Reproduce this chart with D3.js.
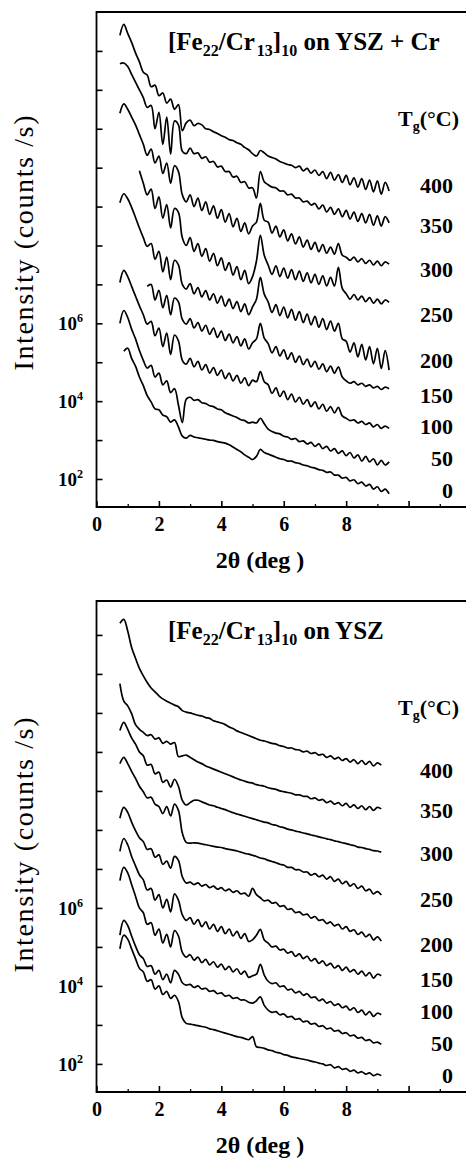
<!DOCTYPE html>
<html>
<head>
<meta charset="utf-8">
<script src="https://cdn.jsdelivr.net/npm/d3@7"></script>
<style>
  body { margin: 0; background: #fff; }
  svg { display: block; }
</style>
</head>
<body>
<svg id="chart" width="466" height="1158"></svg>
<script>
// 2theta sampling (deg)
const twoThetaTop = [0.75, 0.875, 1, 1.125, 1.25, 1.375, 1.5, 1.625, 1.75, 1.875, 2, 2.125, 2.25, 2.375, 2.5, 2.625, 2.75, 2.875, 3, 3.125, 3.25, 3.375, 3.5, 3.625, 3.75, 3.875, 4, 4.125, 4.25, 4.375, 4.5, 4.625, 4.75, 4.875, 5, 5.125, 5.25, 5.375, 5.5, 5.625, 5.75, 5.875, 6, 6.125, 6.25, 6.375, 6.5, 6.625, 6.75, 6.875, 7, 7.125, 7.25, 7.375, 7.5, 7.625, 7.75, 7.875, 8, 8.125, 8.25, 8.375, 8.5, 8.625, 8.75, 8.875, 9, 9.125, 9.25, 9.375];
const twoThetaBottom = twoThetaTop.slice(0, 68);

// growth temperatures, top to bottom
const tgLabels = [400, 350, 300, 250, 200, 150, 100, 50, 0];
// where the temperature labels sit (log10 counts/s)
const tgLabelLevels = [9.34, 8.31, 7.2, 6.03, 4.86, 3.96, 3.15, 2.33, 1.52];

// y tick decades, labelled decades
const decades = [2, 3, 4, 5, 6, 7, 8, 9, 10, 11, 12, 13];
const labelledDecades = [2, 4, 6];

// ---- top panel: [Fe22/Cr13]10 on YSZ + Cr, log10 intensity (offset curves)
const top400 = [13.4, 13.68, 13.45, 13.22, 12.95, 12.72, 12.45, 12.38, 12.08, 12.12, 11.85, 11.92, 11.66, 11.76, 11.5, 11.62, 10.95, 11.15, 11.22, 11.08, 11.14, 11.1, 11.0, 10.98, 10.92, 10.88, 10.82, 10.78, 10.72, 10.7, 10.64, 10.6, 10.52, 10.46, 10.36, 10.3, 10.44, 10.38, 10.3, 10.26, 10.22, 10.16, 10.12, 10.08, 10.06, 10.0, 10.04, 9.92, 9.98, 9.86, 9.94, 9.8, 9.9, 9.72, 9.88, 9.68, 9.82, 9.62, 9.8, 9.56, 9.74, 9.5, 9.72, 9.44, 9.68, 9.38, 9.66, 9.32, 9.62, 9.4];
const top350 = [12.67, 12.69, 12.6, 12.4, 12.2, 12.0, 11.8, 11.55, 11.6, 11.0, 11.42, 10.6, 11.3, 10.35, 11.2, 11.1, 10.42, 10.36, 10.5, 10.36, 10.38, 10.24, 10.28, 10.14, 10.16, 10.02, 10.04, 9.9, 9.9, 9.76, 9.78, 9.62, 9.64, 9.48, 9.48, 9.22, 9.9, 9.64, 9.56, 9.5, 9.48, 9.4, 9.4, 9.3, 9.32, 9.22, 9.22, 9.12, 9.14, 9.04, 9.08, 8.94, 9.04, 8.86, 8.98, 8.8, 8.94, 8.74, 8.9, 8.68, 8.86, 8.62, 8.82, 8.58, 8.8, 8.52, 8.76, 8.5, 8.74, 8.58];
const top300 = [11.4, 11.64, 11.5, 11.3, 11.1, 10.85, 10.6, 10.32, 10.48, 10.12, 10.3, 9.85, 10.12, 9.6, 10.05, 9.9, 9.3, 9.12, 9.3, 9.0, 9.22, 8.9, 9.12, 8.8, 9.02, 8.7, 8.92, 8.6, 8.82, 8.48, 8.7, 8.36, 8.58, 8.3, 8.5, 8.6, 9.08, 8.65, 8.6, 8.32, 8.5, 8.22, 8.4, 8.12, 8.3, 8.04, 8.22, 7.96, 8.14, 7.9, 8.08, 7.84, 8.02, 7.8, 7.96, 7.78, 8.05, 7.75, 7.7, 7.62, 7.7, 7.58, 7.66, 7.54, 7.62, 7.5, 7.6, 7.48, 7.58, 7.52];
const top250 = [null, null, null, null, null, 9.92, 9.6, 9.3, 9.45, 8.95, 9.25, 8.7, 9.05, 8.45, 8.95, 8.85, 8.2, 8.0, 8.2, 7.85, 8.05, 7.72, 7.92, 7.6, 7.8, 7.48, 7.68, 7.36, 7.56, 7.24, 7.46, 7.12, 7.36, 7.02, 7.2, 7.6, 8.26, 7.75, 7.5, 7.26, 7.48, 7.2, 7.42, 7.16, 7.38, 7.12, 7.34, 7.08, 7.3, 7.04, 7.26, 7.0, 7.22, 6.96, 7.18, 6.96, 7.44, 6.9, 6.76, 6.62, 6.74, 6.6, 6.7, 6.56, 6.66, 6.52, 6.62, 6.5, 6.6, 6.54];
const top200 = [9.1, 9.33, 9.2, 8.98, 8.72, 8.45, 8.2, 7.98, 8.05, 7.65, 7.85, 7.32, 7.7, 7.12, 7.62, 7.5, 7.0, 6.88, 7.02, 6.76, 6.92, 6.68, 6.84, 6.6, 6.76, 6.52, 6.7, 6.44, 6.62, 6.38, 6.56, 6.3, 6.5, 6.22, 6.42, 6.62, 7.18, 6.75, 6.55, 6.28, 6.48, 6.2, 6.42, 6.14, 6.36, 6.08, 6.3, 6.02, 6.24, 5.96, 6.18, 5.9, 6.12, 5.84, 6.06, 5.8, 6.0, 5.6, 5.54, 5.26, 5.5, 5.14, 5.46, 5.06, 5.4, 4.96, 5.36, 4.84, 5.3, 4.8];
const top150 = [null, null, null, null, null, null, null, 6.95, 7.0, 6.6, 6.85, 6.4, 6.72, 6.22, 6.65, 6.55, 6.1, 5.98, 6.12, 5.88, 6.02, 5.8, 5.95, 5.72, 5.88, 5.64, 5.8, 5.56, 5.72, 5.5, 5.66, 5.42, 5.6, 5.34, 5.5, 5.6, 6.0, 5.62, 5.48, 5.24, 5.4, 5.16, 5.32, 5.08, 5.24, 5.0, 5.16, 4.94, 5.08, 4.88, 5.02, 4.82, 4.96, 4.76, 4.9, 4.72, 4.88, 4.62, 4.52, 4.46, 4.5, 4.42, 4.46, 4.38, 4.42, 4.34, 4.38, 4.3, 4.36, 4.32];
const top100 = [7.05, 7.36, 7.2, 6.95, 6.7, 6.45, 6.22, 5.98, 6.05, 5.68, 5.88, 5.4, 5.75, 5.2, 5.7, 5.55, 5.05, 4.95, 5.1, 4.88, 5.02, 4.8, 4.94, 4.72, 4.86, 4.66, 4.8, 4.58, 4.72, 4.52, 4.66, 4.46, 4.6, 4.4, 4.54, 4.5, 4.76, 4.5, 4.42, 4.2, 4.34, 4.12, 4.26, 4.04, 4.18, 3.98, 4.1, 3.92, 4.04, 3.86, 3.98, 3.8, 3.92, 3.74, 3.86, 3.7, 3.84, 3.62, 3.56, 3.5, 3.52, 3.44, 3.48, 3.4, 3.44, 3.34, 3.4, 3.3, 3.36, 3.3];
const top50 = [6.0, 6.33, 6.15, 5.85, 5.6, 5.3, 5.05, 4.85, 4.92, 4.62, 4.72, 4.42, 4.52, 4.22, 4.32, 3.9, 3.45, 4.05, 4.1, 4.02, 4.04, 3.96, 3.94, 3.88, 3.86, 3.8, 3.78, 3.7, 3.66, 3.62, 3.58, 3.52, 3.5, 3.44, 3.46, 3.44, 3.56, 3.42, 3.28, 3.22, 3.18, 3.16, 3.1, 3.08, 3.02, 3.04, 2.96, 2.98, 2.9, 2.94, 2.84, 2.9, 2.78, 2.84, 2.72, 2.78, 2.66, 2.72, 2.6, 2.68, 2.54, 2.62, 2.46, 2.58, 2.44, 2.52, 2.36, 2.48, 2.36, 2.44];
const top0 = [null, 5.28, 5.36, 5.1, 4.9, 4.62, 4.4, 4.14, 3.98, 3.8, 3.78, 3.64, 3.6, 3.46, 3.52, 3.34, 3.1, 3.05, 3.12, 3.08, 3.06, 3.04, 3.02, 3.0, 2.99, 2.96, 2.94, 2.92, 2.88, 2.82, 2.76, 2.7, 2.62, 2.56, 2.5, 2.58, 2.76, 2.68, 2.64, 2.6, 2.56, 2.52, 2.5, 2.46, 2.46, 2.42, 2.4, 2.36, 2.34, 2.3, 2.28, 2.24, 2.22, 2.17, 2.18, 2.1, 2.1, 2.02, 2.04, 1.95, 1.98, 1.88, 1.92, 1.82, 1.86, 1.74, 1.8, 1.68, 1.74, 1.62];

// ---- bottom panel: [Fe22/Cr13]10 on YSZ
const bot400 = [13.3, 13.4, 13.1, 12.68, 12.4, 12.14, 11.95, 11.78, 11.64, 11.54, 11.44, 11.36, 11.3, 11.25, 11.2, 11.16, 11.06, 11.02, 11.0, 10.97, 10.94, 10.92, 10.88, 10.86, 10.8, 10.77, 10.74, 10.7, 10.64, 10.6, 10.54, 10.5, 10.46, 10.42, 10.38, 10.34, 10.3, 10.28, 10.25, 10.22, 10.2, 10.16, 10.14, 10.1, 10.1, 10.06, 10.05, 10.0, 10.02, 9.96, 9.98, 9.92, 9.94, 9.86, 9.9, 9.82, 9.86, 9.78, 9.83, 9.74, 9.8, 9.7, 9.78, 9.68, 9.76, 9.64, 9.72, 9.66];
const bot350 = [11.75, 11.3, 11.18, 10.98, 10.7, 10.58, 10.5, 10.42, 10.44, 10.33, 10.36, 10.22, 10.27, 10.2, 10.24, 9.88, 9.9, 9.92, 9.86, 9.8, 9.74, 9.7, 9.64, 9.6, 9.56, 9.52, 9.48, 9.44, 9.4, 9.36, 9.32, 9.28, 9.25, 9.22, 9.2, 9.16, 9.14, 9.12, 9.08, 9.06, 9.04, 9.0, 8.98, 8.96, 8.94, 8.9, 8.9, 8.86, 8.86, 8.8, 8.82, 8.76, 8.78, 8.7, 8.74, 8.66, 8.7, 8.62, 8.68, 8.58, 8.64, 8.55, 8.62, 8.52, 8.6, 8.5, 8.58, 8.54];
const bot300 = [10.55, 10.76, 10.58, 10.36, 10.2, 10.0, 9.9, 9.66, 9.68, 9.44, 9.48, 9.22, 9.28, 9.1, 9.3, 9.12, 8.76, 8.64, 8.7, 8.76, 8.76, 8.72, 8.68, 8.64, 8.62, 8.58, 8.55, 8.52, 8.48, 8.44, 8.41, 8.38, 8.35, 8.32, 8.29, 8.26, 8.23, 8.2, 8.18, 8.14, 8.12, 8.08, 8.06, 8.02, 8.0, 7.97, 7.95, 7.92, 7.9, 7.87, 7.85, 7.82, 7.8, 7.77, 7.75, 7.72, 7.7, 7.67, 7.65, 7.62, 7.6, 7.56, 7.55, 7.52, 7.5, 7.47, 7.46, 7.43];
const bot250 = [9.7, 9.86, 9.7, 9.5, 9.32, 9.12, 8.98, 8.82, 8.84, 8.66, 8.6, 8.42, 8.6, 8.36, 8.66, 8.5, 7.92, 7.68, 7.66, 7.67, 7.66, 7.64, 7.62, 7.6, 7.58, 7.56, 7.55, 7.52, 7.5, 7.48, 7.46, 7.43, 7.4, 7.38, 7.35, 7.32, 7.28, 7.26, 7.22, 7.19, 7.16, 7.12, 7.1, 7.04, 7.04, 6.98, 6.98, 6.92, 6.92, 6.84, 6.88, 6.8, 6.84, 6.74, 6.8, 6.68, 6.74, 6.62, 6.68, 6.56, 6.62, 6.5, 6.56, 6.44, 6.48, 6.36, 6.42, 6.33];
const bot200 = [8.3, 8.58, 8.45, 8.2, 7.98, 7.8, 7.7, 7.5, 7.52, 7.3, 7.36, 7.12, 7.2, 7.02, 7.32, 7.22, 6.8, 6.64, 6.66, 6.6, 6.64, 6.56, 6.6, 6.52, 6.56, 6.48, 6.52, 6.44, 6.48, 6.4, 6.44, 6.36, 6.38, 6.3, 6.5, 6.34, 6.26, 6.18, 6.2, 6.12, 6.14, 6.04, 6.06, 5.96, 5.98, 5.88, 5.9, 5.82, 5.84, 5.74, 5.78, 5.68, 5.7, 5.6, 5.64, 5.54, 5.58, 5.46, 5.52, 5.4, 5.44, 5.32, 5.38, 5.26, 5.32, 5.18, 5.26, 5.15];
const bot150 = [7.45, 7.78, 7.62, 7.32, 7.08, 6.85, 6.72, 6.46, 6.5, 6.2, 6.34, 6.0, 6.22, 5.9, 6.36, 6.2, 5.82, 5.68, 5.75, 5.58, 5.7, 5.52, 5.64, 5.46, 5.58, 5.4, 5.52, 5.34, 5.46, 5.28, 5.4, 5.22, 5.34, 5.14, 5.18, 5.3, 5.45, 5.18, 5.1, 5.0, 5.02, 4.92, 4.94, 4.84, 4.88, 4.76, 4.82, 4.7, 4.76, 4.64, 4.7, 4.58, 4.64, 4.52, 4.58, 4.46, 4.52, 4.4, 4.48, 4.36, 4.42, 4.3, 4.38, 4.26, 4.34, 4.2, 4.3, 4.26];
const bot100 = [6.7, 7.04, 6.9, 6.6, 6.3, 6.0, 5.88, 5.58, 5.62, 5.3, 5.46, 5.1, 5.32, 5.0, 5.42, 5.28, 4.86, 4.74, 4.8, 4.66, 4.74, 4.6, 4.68, 4.54, 4.62, 4.48, 4.56, 4.42, 4.5, 4.36, 4.44, 4.3, 4.38, 4.22, 4.26, 4.3, 4.55, 4.28, 4.12, 4.06, 4.08, 3.98, 4.0, 3.9, 3.92, 3.82, 3.86, 3.76, 3.8, 3.7, 3.72, 3.62, 3.66, 3.56, 3.6, 3.5, 3.54, 3.44, 3.48, 3.38, 3.44, 3.32, 3.38, 3.26, 3.34, 3.22, 3.3, 3.26];
const bot50 = [5.3, 5.68, 5.55, 5.28, 5.02, 4.8, 4.7, 4.5, 4.52, 4.3, 4.4, 4.16, 4.3, 4.08, 4.4, 4.3, 4.08, 4.02, 4.04, 3.96, 4.0, 3.92, 3.94, 3.86, 3.88, 3.8, 3.82, 3.74, 3.76, 3.68, 3.7, 3.64, 3.64, 3.58, 3.56, 3.62, 3.72, 3.5, 3.38, 3.32, 3.34, 3.26, 3.28, 3.2, 3.22, 3.14, 3.16, 3.08, 3.1, 3.02, 3.04, 2.96, 2.98, 2.9, 2.92, 2.84, 2.86, 2.78, 2.8, 2.72, 2.74, 2.66, 2.68, 2.6, 2.62, 2.54, 2.56, 2.5];
const bot0 = [4.95, 5.3, 5.2, 4.95, 4.7, 4.45, 4.36, 4.12, 4.16, 3.92, 4.0, 3.78, 3.86, 3.68, 3.76, 3.6, 3.18, 3.04, 3.02, 3.0, 2.98, 2.96, 2.94, 2.9, 2.88, 2.85, 2.82, 2.79, 2.76, 2.73, 2.7, 2.68, 2.65, 2.62, 2.7, 2.44, 2.42, 2.4, 2.36, 2.34, 2.3, 2.28, 2.24, 2.22, 2.18, 2.16, 2.14, 2.12, 2.1, 2.07, 2.05, 2.02, 2.0, 1.96, 1.98, 1.9, 1.93, 1.86, 1.88, 1.81, 1.84, 1.77, 1.8, 1.74, 1.77, 1.7, 1.74, 1.7];

const topSeries = [top400, top350, top300, top250, top200, top150, top100, top50, top0];
const bottomSeries = [bot400, bot350, bot300, bot250, bot200, bot150, bot100, bot50, bot0];

const serif = "'Liberation Serif', 'DejaVu Serif', serif";

const panels = [
  { tail: " on YSZ + Cr", grid: twoThetaTop, series: topSeries, top: 12, bottom: 507, logMax: 14.0, yTitleY: 243 },
  { tail: " on YSZ", grid: twoThetaBottom, series: bottomSeries, top: 601, bottom: 1092, logMax: 13.87, yTitleY: 845 }
];
const logMin = 1.28;

const svg = d3.select("#chart");
const x = d3.scaleLinear().domain([0, 12]).range([96.5, 471]);

panels.forEach(function (p) {
  var y = d3.scaleLog()
    .domain([Math.pow(10, logMin), Math.pow(10, p.logMax)])
    .range([p.bottom, p.top]);
  var g = svg.append("g");

  // the scans
  var line = d3.line()
    .defined(function (d) { return d[1] !== null; })
    .x(function (d) { return x(d[0]); })
    .y(function (d) { return y(Math.pow(10, d[1])); })
    .curve(d3.curveCatmullRom.alpha(0.5));

  g.selectAll("path.scan")
    .data(p.series).enter()
    .append("path")
    .attr("class", "scan")
    .attr("d", function (s) { return line(p.grid.map(function (t, i) { return [t, s[i]]; })); })
    .attr("fill", "none")
    .attr("stroke", "#000")
    .attr("stroke-width", 1.7)
    .attr("stroke-linejoin", "round");

  // x axis: major ticks with labels, minor ticks at odd degrees
  var xMajor = g.append("g")
    .attr("transform", "translate(0," + p.bottom + ")")
    .call(d3.axisBottom(x).tickValues([0, 2, 4, 6, 8, 10])
      .tickSizeInner(-6).tickSizeOuter(0).tickPadding(10)
      .tickFormat(function (d) { return d <= 8 ? d : ""; }));
  xMajor.select(".domain").remove();
  xMajor.attr("font-family", serif).attr("font-size", 20).attr("font-weight", "bold");
  xMajor.selectAll("line").attr("stroke-width", 1.6);

  var xMinor = g.append("g")
    .attr("transform", "translate(0," + p.bottom + ")")
    .call(d3.axisBottom(x).tickValues([1, 3, 5, 7, 9, 11])
      .tickSizeInner(-3).tickSizeOuter(0).tickFormat(""));
  xMinor.select(".domain").remove();
  xMinor.selectAll("line").attr("stroke-width", 1.3);

  // y axis ticks, pointing inward
  var yAx = g.append("g")
    .attr("transform", "translate(" + x(0) + ",0)")
    .call(d3.axisRight(y).tickValues(decades.map(function (k) { return Math.pow(10, k); }))
      .tickSizeInner(6).tickSizeOuter(0).tickFormat(""));
  yAx.select(".domain").remove();
  yAx.selectAll("line").attr("stroke-width", 1.6);

  labelledDecades.forEach(function (k) {
    var t = g.append("text")
      .attr("x", 83)
      .attr("y", y(Math.pow(10, k)) + 7)
      .attr("text-anchor", "end")
      .attr("font-family", serif)
      .attr("font-size", 19)
      .attr("font-weight", "bold");
    t.append("tspan").text("10");
    t.append("tspan").attr("font-size", 12).attr("dy", -8).text(k);
  });

  // frame (open on the right)
  g.append("path")
    .attr("d", "M466," + p.top + "H" + x(0) + "V" + p.bottom + "H466")
    .attr("fill", "none")
    .attr("stroke", "#000")
    .attr("stroke-width", 1.8);

  // sample title
  var title = g.append("text")
    .attr("x", 168).attr("y", p.top + 38)
    .attr("font-family", serif).attr("font-size", 25).attr("font-weight", "bold");
  title.append("tspan").text("[Fe");
  title.append("tspan").attr("font-size", 16).attr("dy", 6).text("22");
  title.append("tspan").attr("dy", -6).text("/Cr");
  title.append("tspan").attr("font-size", 16).attr("dy", 6).attr("dx", 2).text("13");
  title.append("tspan").attr("dy", -6).text("]");
  title.append("tspan").attr("font-size", 16).attr("dy", 6).text("10");
  title.append("tspan").attr("dy", -6).text(p.tail);

  // Tg legend heading
  var tg = g.append("text")
    .attr("x", 398).attr("y", p.top + 114)
    .attr("font-family", serif).attr("font-size", 22).attr("font-weight", "bold");
  tg.append("tspan").text("T");
  tg.append("tspan").attr("font-size", 14).attr("dy", 5).text("g");
  tg.append("tspan").attr("dy", -5).text("(°C)");

  // temperature labels
  g.selectAll("text.tg")
    .data(tgLabels).enter()
    .append("text")
    .attr("class", "tg")
    .attr("x", 453)
    .attr("y", function (d, i) { return y(Math.pow(10, tgLabelLevels[i])); })
    .attr("text-anchor", "end")
    .attr("font-family", serif).attr("font-size", 22).attr("font-weight", "bold")
    .text(function (d) { return d; });

  // axis titles
  g.append("text")
    .attr("x", 260).attr("y", p.bottom + 61)
    .attr("text-anchor", "middle")
    .attr("font-family", serif).attr("font-size", 24).attr("font-weight", "bold")
    .text("2θ (deg )");

  g.append("text")
    .attr("transform", "translate(33," + p.yTitleY + ") rotate(-90)")
    .attr("text-anchor", "middle")
    .attr("font-family", serif).attr("font-size", 28)
    .attr("textLength", 255).attr("lengthAdjust", "spacing")
    .text("Intensity (counts /s)");
});
</script>
</body>
</html>
